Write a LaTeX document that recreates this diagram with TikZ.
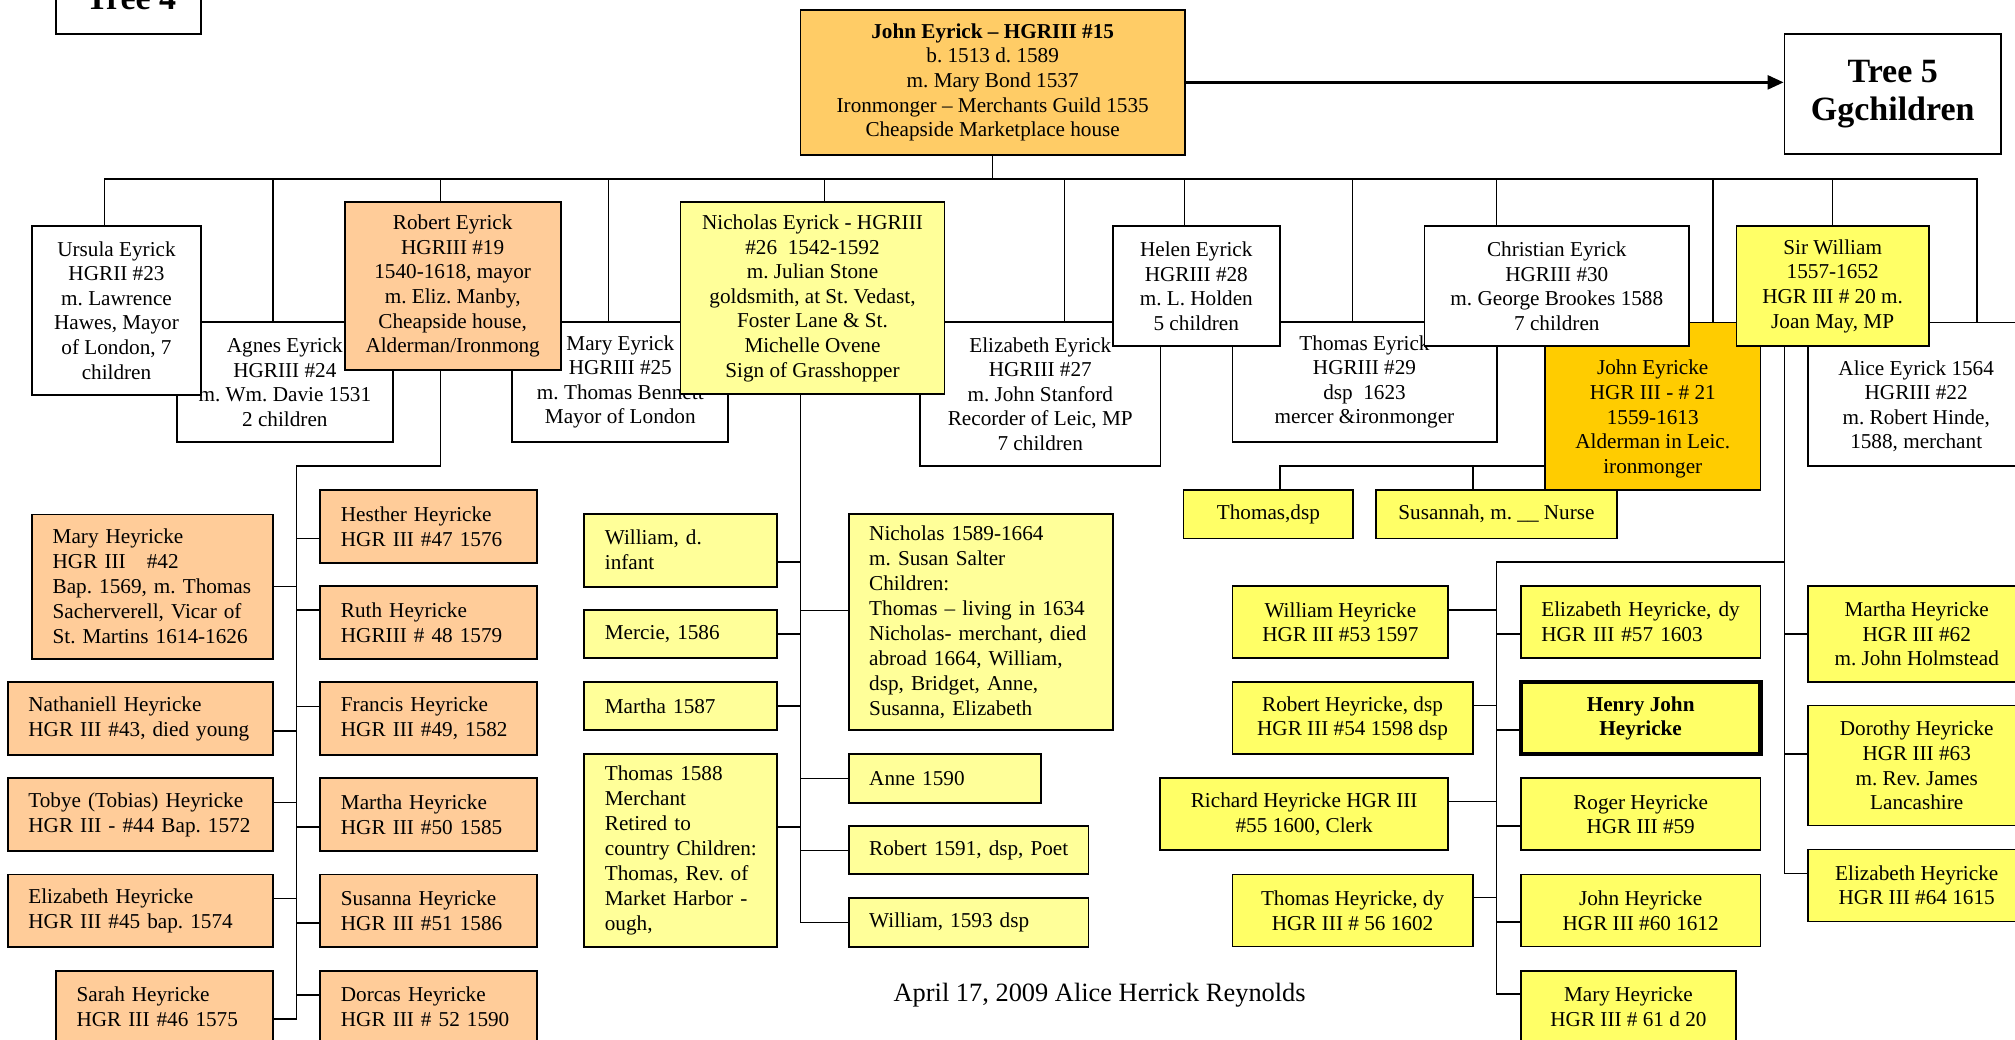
\documentclass[tikz,border=0pt]{standalone}
\usepackage{fontspec}
\setmainfont{Liberation Serif}
\usetikzlibrary{arrows.meta}
\frenchspacing

\definecolor{johnfill}{HTML}{FFCC66}
\definecolor{peach}{HTML}{FFCC99}
\definecolor{lemon}{HTML}{FFFF99}
\definecolor{amber}{HTML}{FFCC00}
\definecolor{canary}{HTML}{FFFF66}

\tikzset{
  person/.style={draw, rectangle, inner sep=0pt, line width=0.9pt, align=center,
    font=\fontsize{10.6}{12.3}\selectfont},
  boxwh/.style 2 args={minimum width=#1*0.6425pt, minimum height=#2*0.6425pt},
  kid/.style 2 args={person, boxwh={#1}{#2}, align=left, text width=(#1-8)*0.6425pt,
    execute at begin node={\leftskip=7.71pt}, font=\fontsize{10.6}{12.5}\selectfont},
  txt/.style={inner sep=0pt, align=center, font=\fontsize{10.6}{12.3}\selectfont},
  treetitle/.style={inner sep=0pt, align=center, font=\fontsize{17}{19}\selectfont\bfseries},
  link/.style={line width=0.8pt},
}

\begin{document}
\begin{tikzpicture}[x=0.6425pt, y=-0.6425pt]

      \path[fill=white, use as bounding box] (0,0) rectangle (1568,809);

      % top line
      \node[person, boxwh={112.9}{66.7}] (tree4) at (100,-6.65) {};
      \node[treetitle, anchor=base] (tree4T) at (102,7.3) {Tree 4};
      \node[person, boxwh={299.1}{112.6}, fill=johnfill] (john) at (772.45,64.1)
        {\textbf{John Eyrick – HGRIII \#15}\\b. 1513 d. 1589\\m. Mary Bond 1537\\Ironmonger – Merchants Guild 1535\\Cheapside Marketplace house};
      \node[person, treetitle, boxwh={168.5}{93.6}] (tree5) at (1472.85,73.3) {Tree 5\\Ggchildren};

      % children, back row
      \begin{scope}[every node/.style={person, fill=white}]
        \node[boxwh={168.1}{93.2}] (agnes)   at (221.65,297.4)  {Agnes Eyrick\\HGRIII \#24\\m. Wm. Davie 1531\\2 children};
        \node[boxwh={168}{92.9}]   (maryE)   at (482.7,297.25)  {Mary Eyrick\\HGRIII \#25\\m. Thomas Bennett\\Mayor of London};
        \node[boxwh={187}{111.7}]  (elizE)   at (809.5,306.65)  {Elizabeth Eyrick\\HGRIII \#27\\m. John Stanford\\Recorder of Leic, MP\\7 children};
        \node[boxwh={205.6}{92.9}] (thomasE) at (1061.8,297.25) {Thomas Eyrick\\HGRIII \#29\\dsp~~1623\\mercer \&ironmonger};
        \node[boxwh={167.8}{130.3}, fill=amber] (jeyricke) at (1286.1,316.15) {};
        \node[boxwh={167.8}{111.6}] (alice)  at (1491.1,306.8)  {};
      \end{scope}
      \node[txt] (jeyrickeT) at (1286.1,326) {John Eyricke\\HGR III - \# 21\\1559-1613\\Alderman in Leic.\\ironmonger};
      \node[txt] (aliceT) at (1491.1,316.2) {Alice Eyrick 1564\\HGRIII \#22\\m. Robert Hinde,\\1588, merchant};

      % children, front row
      \begin{scope}[every node/.style={person, fill=white}]
        \node[boxwh={131.3}{131.2}] (ursula) at (90.65,241.5) {Ursula Eyrick\\HGRII \#23\\m. Lawrence\\Hawes, Mayor\\of London, 7\\children};
        \node[boxwh={168.1}{131}, fill=peach] (robert) at (352.25,222.7) {Robert Eyrick\\HGRIII \#19\\1540-1618, mayor\\m. Eliz. Manby,\\Cheapside house,\\Alderman/Ironmong};
        \node[boxwh={205.5}{149.4}, fill=lemon] (nicholas) at (632.25,232) {Nicholas Eyrick - HGRIII\\\#26~~1542-1592\\m. Julian Stone\\goldsmith, at St. Vedast,\\Foster Lane \& St.\\Michelle Ovene\\Sign of Grasshopper};
        \node[boxwh={130.2}{93.4}] (helen) at (930.9,222.6) {Helen Eyrick\\HGRIII \#28\\m. L. Holden\\5 children};
        \node[boxwh={205.9}{93.3}] (christian) at (1211.45,222.65) {Christian Eyrick\\HGRIII \#30\\m. George Brookes 1588\\7 children};
        \node[boxwh={149.8}{93.2}, fill=canary] (william) at (1426.1,222.7) {Sir William\\1557-1652\\HGR III \# 20 m.\\Joan May, MP};
      \end{scope}

      % Robert's children
      \begin{scope}[every node/.style={fill=peach}]
        \node[kid={187.6}{112.4}] (maryH)      at (118.8,456.5)   {Mary Heyricke\\HGR III~~~\#42\\Bap. 1569, m. Thomas\\Sacherverell, Vicar of\\St. Martins 1614-1626};
        \node[kid={206.5}{56.5}]  (nathaniell) at (109.35,559.25) {Nathaniell Heyricke\\HGR III \#43, died young};
        \node[kid={206.5}{56.5}]  (tobye)      at (109.35,633.95) {Tobye (Tobias) Heyricke\\HGR III - \#44 Bap. 1572};
        \node[kid={206.5}{56.5}]  (elizH)      at (109.35,708.75) {Elizabeth Heyricke\\HGR III \#45 bap. 1574};
        \node[kid={169}{56.5}]    (sarah)      at (128.1,783.55)  {Sarah Heyricke\\HGR III \#46 1575};
        \node[kid={168.4}{56.5}]  (hesther)    at (333.5,409.6)   {Hesther Heyricke\\HGR III \#47 1576};
        \node[kid={168.4}{56.5}]  (ruth)       at (333.5,484.35)  {Ruth Heyricke\\HGRIII \# 48 1579};
        \node[kid={168.4}{56.5}]  (francis)    at (333.5,559.25)  {Francis Heyricke\\HGR III \#49, 1582};
        \node[kid={168.4}{56.5}]  (marthaH)    at (333.5,633.95)  {Martha Heyricke\\HGR III \#50 1585};
        \node[kid={168.4}{56.5}]  (susanna)    at (333.5,708.75)  {Susanna Heyricke\\HGR III \#51 1586};
        \node[kid={168.4}{56.5}]  (dorcas)     at (333.5,783.55)  {Dorcas Heyricke\\HGR III \# 52 1590};
      \end{scope}

      % Nicholas's children
      \begin{scope}[every node/.style={fill=lemon}]
        \node[kid={150.1}{56.8}]  (williamI)  at (529.75,428.1)  {William, d.\\infant};
        \node[kid={150.1}{37.6}]  (mercie)    at (529.75,493.5)  {Mercie, 1586};
        \node[kid={150.1}{37.1}]  (marthaN)   at (529.75,549.55) {Martha 1587};
        \node[kid={150.1}{149.7}] (thomasN)   at (529.75,661.85) {Thomas 1588\\Merchant\\Retired to\\country Children:\\Thomas, Rev. of\\Market Harbor -\\ough,};
        \node[kid={205.6}{168.4}] (nicholasJ) at (763.2,483.9)   {Nicholas 1589-1664\\m. Susan Salter\\Children:\\Thomas – living in 1634\\Nicholas- merchant, died\\abroad 1664, William,\\dsp, Bridget, Anne,\\Susanna, Elizabeth};
        \node[kid={149.4}{37.7}]  (anne)      at (735.1,605.85)  {Anne 1590};
        \node[kid={186.6}{37.4}]  (robertP)   at (753.7,661.7)   {Robert 1591, dsp, Poet};
        \node[kid={186.6}{37.7}]  (william93) at (753.7,717.85)  {William, 1593 dsp};
      \end{scope}

      % John Eyricke's and Sir William's children
      \begin{scope}[every node/.style={person, fill=canary}]
        \node[boxwh={132}{38}]      (thomasD)  at (987,400)       {Thomas,dsp};
        \node[boxwh={187}{38}]      (susannah) at (1164.5,400)    {Susannah, m. \_\_ Nurse};
        \node[boxwh={168}{56}]      (williamH) at (1043,484.2)    {William Heyricke\\HGR III \#53 1597};
        \node[boxwh={187}{56}]      (robertH)  at (1052.5,559)    {Robert Heyricke, dsp\\HGR III \#54 1598 dsp};
        \node[boxwh={224.3}{56}]    (richardH) at (1014.85,633.6) {Richard Heyricke HGR III\\\#55 1600, Clerk};
        \node[boxwh={187}{56}]      (thomasH)  at (1052.5,708.5)  {Thomas Heyricke, dy\\HGR III \# 56 1602};
        \node[kid={186.6}{56}]      (elizH57)  at (1276.7,484.2)  {Elizabeth Heyricke, dy\\HGR III \#57 1603};
        \node[boxwh={186.6}{56}, line width=2.1pt, font=\fontsize{10.6}{12.3}\selectfont\bfseries]
                                    (henry)    at (1276.7,559)    {Henry John\\Heyricke};
        \node[boxwh={186.6}{56}]    (roger)    at (1276.7,633.6)  {Roger Heyricke\\HGR III \#59};
        \node[boxwh={186.6}{56}]    (johnH)    at (1276.7,708.5)  {John Heyricke\\HGR III \#60 1612};
        \node[boxwh={167.6}{56}]    (maryH61)  at (1267.2,783.3)  {Mary Heyricke\\HGR III \# 61 d 20};
        \node[boxwh={169}{74.6}]    (marthaJ)  at (1491.5,493.5)  {Martha Heyricke\\HGR III \#62\\m. John Holmstead};
        \node[boxwh={169}{93.3}]    (dorothy)  at (1491.5,595.65) {Dorothy Heyricke\\HGR III \#63\\m. Rev. James\\Lancashire};
        \node[boxwh={169}{56}]      (elizW)    at (1491.5,689)    {Elizabeth Heyricke\\HGR III \#64 1615};
      \end{scope}

      \node[font=\fontsize{13.2}{15}\selectfont, inner sep=0pt] (footer) at (855.7,774.3) {April 17, 2009 Alice Herrick Reynolds};

      % connectors
      \draw[line width=1.3pt, -{Triangle[length=8pt,width=7pt]}] (john.east) -- (john.east -| tree5.west);

      \coordinate (bus) at ([shift={(0,18.4)}]john.south);
      \draw[link] (john.south) -- (bus);
      \draw[link] (bus) -| ([shift={(-9.35,0)}]ursula.north);
      \draw[link] (bus) -| ([shift={(-9.35,0)}]agnes.north);
      \draw[link] (bus) -| ([shift={(-9.35,0)}]robert.north);
      \draw[link] (bus) -| ([shift={(-9.2,0)}]maryE.north);
      \draw[link] (bus) -| ([shift={(9.45,0)}]nicholas.north);
      \draw[link] (bus) -| ([shift={(18.7,0)}]elizE.north);
      \draw[link] (bus) -| ([shift={(-9.1,0)}]helen.north);
      \draw[link] (bus) -| ([shift={(-9.4,0)}]thomasE.north);
      \draw[link] (bus) -| ([shift={(-46.95,0)}]christian.north);
      \draw[link] (bus) -| ([shift={(46.9,0)}]jeyricke.north);
      \draw[link] (bus) -| (william.north);
      \draw[link] (bus) -| ([shift={(47.1,0)}]alice.north);

      \coordinate (rk) at (230.7,362.6);
      \draw[link] ([shift={(-9.35,0)}]robert.south) |- (rk);
      \draw[link] (rk) |- ([shift={(0,9.5)}]sarah.east);
      \draw[link] (maryH.east) -| (rk);
      \draw[link] ([shift={(0,9.5)}]nathaniell.east) -| (rk);
      \draw[link] ([shift={(0,-9.5)}]tobye.east) -| (rk);
      \draw[link] ([shift={(0,-9.5)}]elizH.east) -| (rk);
      \draw[link] ([shift={(0,9.5)}]hesther.west) -| (rk);
      \draw[link] ([shift={(0,-9.5)}]ruth.west) -| (rk);
      \draw[link] ([shift={(0,-9.5)}]francis.west) -| (rk);
      \draw[link] ([shift={(0,9.5)}]marthaH.west) -| (rk);
      \draw[link] ([shift={(0,9.5)}]susanna.west) -| (rk);
      \draw[link] ([shift={(0,-9.5)}]dorcas.west) -| (rk);

      \coordinate (nk) at ([shift={(-9.35,0)}]nicholas.south);
      \draw[link] (nk) |- (william93.west);
      \draw[link] ([shift={(0,9)}]williamI.east) -| (nk);
      \draw[link] (mercie.east) -| (nk);
      \draw[link] (marthaN.east) -| (nk);
      \draw[link] ([shift={(0,-18.5)}]thomasN.east) -| (nk);
      \draw[link] ([shift={(0,-8.9)}]nicholasJ.west) -| (nk);
      \draw[link] (anne.west) -| (nk);
      \draw[link] (robertP.west) -| (nk);

      \coordinate (jk) at ([shift={(0,46.45)}]jeyricke.west);
      \draw[link] (jk) -| ([shift={(9,0)}]thomasD.north);
      \draw[link] (jk) -| ([shift={(-18.5,0)}]susannah.north);

      \coordinate (wk) at ([shift={(-37.5,0)}]william.south);
      \coordinate (wm) at (1164.5,437.5);
      \draw[link] (wk) |- ([shift={(0,-9.4)}]elizW.west);
      \draw[link] (marthaJ.west) -| (wk);
      \draw[link] ([shift={(0,-9)}]dorothy.west) -| (wk);
      \draw[link] (wk) |- (wm);
      \draw[link] (wm) |- ([shift={(0,-10)}]maryH61.west);
      \draw[link] ([shift={(0,-9.6)}]williamH.east) -| (wm);
      \draw[link] ([shift={(0,-10)}]robertH.east) -| (wm);
      \draw[link] ([shift={(0,-10)}]richardH.east) -| (wm);
      \draw[link] ([shift={(0,-10)}]thomasH.east) -| (wm);
      \draw[link] ([shift={(0,9)}]elizH57.west) -| (wm);
      \draw[link] ([shift={(0,9)}]henry.west) -| (wm);
      \draw[link] ([shift={(0,9)}]roger.west) -| (wm);
      \draw[link] ([shift={(0,9)}]johnH.west) -| (wm);

    \end{tikzpicture}
\end{document}
